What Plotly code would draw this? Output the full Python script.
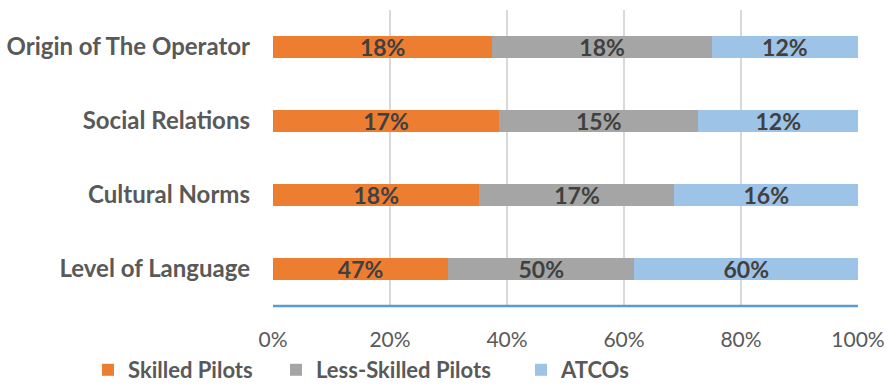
import plotly.graph_objects as go

categories = ["Level of Language", "Cultural Norms", "Social Relations", "Origin of The Operator"]
skilled = [47, 18, 17, 18]
less_skilled = [50, 17, 15, 18]
atcos = [60, 16, 12, 12]
series_names = ["Skilled Pilots", "Less-Skilled Pilots", "ATCOs"]
colors = ["#ED7D31", "#A5A5A5", "#9DC3E6"]
tick_vals = [0, 20, 40, 60, 80, 100]
tick_text = ["0%", "20%", "40%", "60%", "80%", "100%"]

FONT = "Lato, 'Open Sans', sans-serif"
W, H = 890, 385
legend_ids = ["legend", "legend2", "legend3"]
legend_px = [88, 276, 521]

fig = go.Figure()
for name, vals, col, lid in zip(series_names, [skilled, less_skilled, atcos], colors, legend_ids):
    fig.add_trace(go.Bar(
        y=categories, x=vals, name=name, orientation="h",
        marker=dict(color=col, line=dict(width=0)),
        text=[f"{v}%" for v in vals],
        textposition="inside", insidetextanchor="middle",
        textfont=dict(family=FONT, size=23, color="#404040", weight="bold"),
        hoverinfo="skip", legend=lid, showlegend=True,
    ))

legend_style = dict(orientation="h", xanchor="left", y=(H - 370) / H, yanchor="middle",
                    xref="container", yref="container",
                    font=dict(family=FONT, size=22, color="#595959", weight="bold"),
                    itemwidth=30, itemsizing="constant", bgcolor="rgba(0,0,0,0)")

fig.update_layout(
    showlegend=True,
    barmode="stack", barnorm="percent", bargap=0.70,
    width=W, height=H,
    margin=dict(l=273, r=32, t=10, b=79, autoexpand=False),
    plot_bgcolor="white", paper_bgcolor="white",
    uniformtext=dict(mode="show", minsize=23),
    font=dict(family=FONT, color="#595959"),
    legend=dict(x=legend_px[0] / W, **legend_style),
    legend2=dict(x=legend_px[1] / W, **legend_style),
    legend3=dict(x=legend_px[2] / W, **legend_style),
    xaxis=dict(range=[0, 100], tickvals=tick_vals, ticktext=tick_text, tickmode="array",
               showgrid=True, gridcolor="#D9D9D9", gridwidth=2,
               zeroline=False, showline=False,
               tickfont=dict(family=FONT, size=21, color="#595959"),
               ticklabelstandoff=19),
    yaxis=dict(showgrid=False, zeroline=False, showline=False,
               tickfont=dict(family=FONT, size=24, color="#595959", weight="bold"),
               ticklabelstandoff=22),
)
# bottom axis line (blue)
fig.add_shape(type="line", xref="paper", yref="paper", x0=0, x1=1, y0=0, y1=0,
              line=dict(color="#5B9BD5", width=2.5))

fig.write_html("out.html")
